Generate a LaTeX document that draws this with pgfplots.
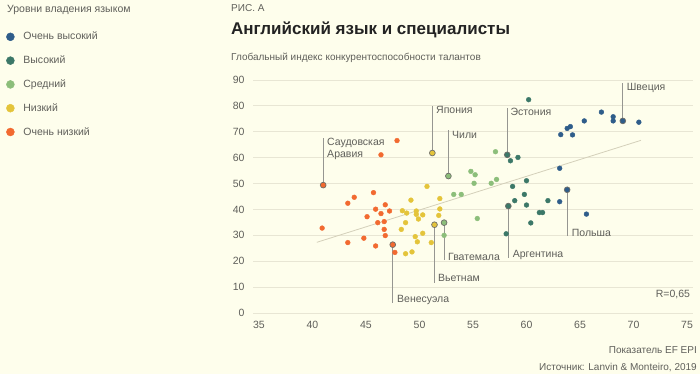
\documentclass[border=0pt]{standalone}
\usepackage{pgfplots}
\pgfplotsset{compat=1.18}
\usepackage{fontspec}
\setmainfont{Liberation Sans}
\definecolor{bg}{RGB}{254,254,236}
\definecolor{gridc}{RGB}{232,230,212}
\definecolor{txt}{RGB}{95,95,90}
\definecolor{ttl}{RGB}{35,35,35}
\definecolor{vhigh}{RGB}{47,93,138}
\definecolor{high}{RGB}{60,120,104}
\definecolor{mid}{RGB}{140,190,122}
\definecolor{low}{RGB}{228,196,58}
\definecolor{vlow}{RGB}{242,106,48}
\definecolor{trendc}{RGB}{212,208,186}
\definecolor{annc}{RGB}{150,150,145}
\definecolor{ringc}{RGB}{110,110,105}
\begin{document}
\begin{tikzpicture}[x=1pt,y=1pt]
\fill[bg] (0,0) rectangle (700,374);
\useasboundingbox (0,0) rectangle (700,374);
\begin{scope}[every node/.style={inner sep=0pt}]
\node[anchor=base west, text=txt, font=\fontsize{10.5}{12}\selectfont] at (7,361) {Уровни владения языком};
\node[anchor=base west, text=txt, font=\fontsize{10}{12}\selectfont] at (231,362) {РИС. А};
\node[anchor=base west, text=ttl, font=\fontsize{17}{19}\selectfont\bfseries] at (231,339) {Английский язык и специалисты};
\node[anchor=base west, text=txt, font=\fontsize{10}{12}\selectfont] at (231,313) {Глобальный индекс конкурентоспособности талантов};
\node[anchor=base east, text=txt, font=\fontsize{10}{12}\selectfont] at (697,20) {Показатель EF EPI};
\node[anchor=base east, text=txt, font=\fontsize{10}{12}\selectfont] at (697,3.5) {Источник: Lanvin \& Monteiro, 2019};
\end{scope}
\begin{axis}[
  at={(253pt,61pt)}, anchor=south west,
  scale only axis, width=440pt, height=233pt,
  xmin=34.44, xmax=75.56, ymin=0, ymax=90,
  xtick={35,40,...,75}, ytick={0,10,...,90},
  axis line style={draw=none},
  major tick length=0pt,
  ymajorgrids, grid style={gridc, line width=0.9pt},
  tick label style={font=\fontsize{10.5}{12}\selectfont, text=txt},
  /pgf/number format/assume math mode=true,
  yticklabel style={xshift=-5pt},
  xticklabel style={yshift=-5pt},
  clip=false,
  legend style={at={(axis description cs:-0.5682,1.219)}, anchor=north west, draw=none, fill=none,
    font=\fontsize{10.5}{12}\selectfont, text=txt, row sep=12.5pt,
    nodes={inner xsep=4pt, inner ysep=1pt}},
  legend image code/.code={\path[draw=none,fill=none] (0pt,0pt) (13pt,0pt); \fill (4pt,0pt) circle (4pt);},
  legend cell align=left,
  every axis plot/.append style={only marks, mark=*, mark size=2.4pt},
]
% trend
\addplot[forget plot, no marks, sharp plot, trendc, line width=0.8pt] coordinates {(40.4,27.3) (70.7,66.7)};
% annotation lines
\draw[annc, line width=0.8pt] (axis cs:41.0,49.4) -- (axis cs:41.0,67.7);
\draw[annc, line width=0.8pt] (axis cs:51.2,61.8) -- (axis cs:51.2,80.1);
\draw[annc, line width=0.8pt] (axis cs:52.7,52.9) -- (axis cs:52.7,70.7);
\draw[annc, line width=0.8pt] (axis cs:58.2,61.1) -- (axis cs:58.2,79.3);
\draw[annc, line width=0.8pt] (axis cs:69.0,74.2) -- (axis cs:69.0,88.7);
\draw[annc, line width=0.8pt] (axis cs:63.8,47.6) -- (axis cs:63.8,29.9);
\draw[annc, line width=0.8pt] (axis cs:58.3,41.3) -- (axis cs:58.3,21.1);
\draw[annc, line width=0.8pt] (axis cs:52.3,34.9) -- (axis cs:52.3,20.5);
\draw[annc, line width=0.8pt] (axis cs:51.4,34.1) -- (axis cs:51.4,11.7);
\draw[annc, line width=0.8pt] (axis cs:47.5,26.4) -- (axis cs:47.5,3.7);
% series
\addplot[color=vhigh] coordinates {
(70.5,73.7) (68.1,75.8) (68.1,74.2) (67.0,77.6) (65.4,74.2) (63.8,71.3) (64.1,72.0)
(63.2,68.9) (64.3,68.8) (63.1,55.9) (63.1,43.0) (65.6,38.2)};
\addlegendentry{Очень высокий}
\addplot[color=high] coordinates {
(60.2,82.4) (58.5,58.8) (59.2,60.1) (58.7,48.9) (60.0,51.1) (59.8,45.8) (58.9,43.4)
(60.0,41.7) (62.0,43.4) (61.2,38.8) (61.5,38.8) (60.4,34.8) (58.1,30.6)};
\addlegendentry{Высокий}
\addplot[color=mid] coordinates {
(54.8,54.7) (55.2,53.4) (55.1,50.1) (56.7,50.1) (57.2,51.6) (57.1,62.3) (53.2,45.8)
(53.9,45.8) (55.4,36.5) (52.3,30.0)};
\addlegendentry{Средний}
\addplot[color=low] coordinates {
(50.7,48.9) (49.2,43.6) (51.9,44.2) (51.9,40.2) (51.8,37.7) (48.4,39.5) (48.8,38.6)
(49.7,39.4) (49.7,38.1) (50.3,37.9) (49.9,36.3) (48.7,34.9) (48.3,32.3) (49.6,29.5)
(50.3,30.8) (49.8,27.5) (51.1,27.2) (49.3,23.6) (48.7,22.9)};
\addlegendentry{Низкий}
\addplot[color=vlow] coordinates {
(46.4,61.1) (47.9,66.6) (43.9,44.7) (43.3,42.4) (45.7,46.5) (46.8,41.8) (45.9,40.1)
(47.2,39.4) (46.4,38.4) (45.1,37.2) (46.7,35.3) (46.1,34.9) (40.9,32.8) (46.7,32.3)
(46.8,29.9) (44.8,28.9) (43.3,27.2) (45.9,25.9) (47.7,23.4)};
\addlegendentry{Очень низкий}
% highlighted points
\addplot[forget plot, mark size=2.9pt, mark options={fill=vhigh, draw=ringc, line width=0.7pt}] coordinates {(69.0,74.2) (63.8,47.6)};
\addplot[forget plot, mark size=2.9pt, mark options={fill=high, draw=ringc, line width=0.7pt}] coordinates {(58.2,61.1) (58.3,41.3)};
\addplot[forget plot, mark size=2.9pt, mark options={fill=mid, draw=ringc, line width=0.7pt}] coordinates {(52.7,52.9) (52.3,34.9)};
\addplot[forget plot, mark size=2.9pt, mark options={fill=low, draw=ringc, line width=0.7pt}] coordinates {(51.2,61.8) (51.4,34.1)};
\addplot[forget plot, mark size=2.9pt, mark options={fill=vlow, draw=ringc, line width=0.7pt}] coordinates {(41.0,49.4) (47.5,26.4)};
% labels
\begin{scope}[every node/.style={text=txt, font=\fontsize{10.5}{12}\selectfont, inner sep=0pt}]
\node[anchor=base west] at (axis cs:41.36,64.6) {Саудовская};
\node[anchor=base west] at (axis cs:41.36,59.9) {Аравия};
\node[anchor=base west] at (axis cs:51.54,77.1) {Япония};
\node[anchor=base west] at (axis cs:53.04,67.5) {Чили};
\node[anchor=base west] at (axis cs:58.5,76.3) {Эстония};
\node[anchor=base west] at (axis cs:69.36,85.9) {Швеция};
\node[anchor=base west] at (axis cs:64.22,29.5) {Польша};
\node[anchor=base west] at (axis cs:58.7,21.5) {Аргентина};
\node[anchor=base west] at (axis cs:52.66,20.2) {Гватемала};
\node[anchor=base west] at (axis cs:51.73,12.1) {Вьетнам};
\node[anchor=base west] at (axis cs:47.9,4.0) {Венесуэла};
\node[anchor=base east] at (axis cs:75.3,6.0) {R=0,65};
\end{scope}
\end{axis}
\end{tikzpicture}
\end{document}
